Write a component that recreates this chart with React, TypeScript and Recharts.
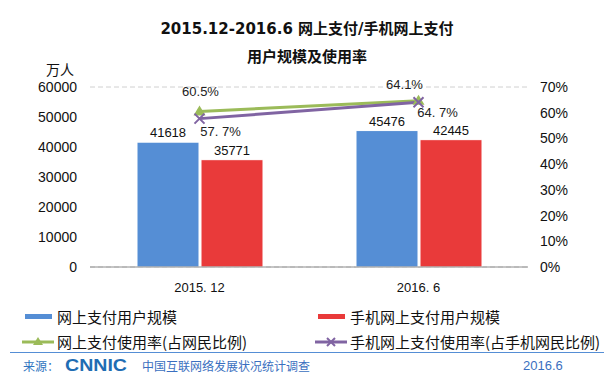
import React from 'react';
import {
  ComposedChart,
  Bar,
  Line,
  XAxis,
  YAxis,
  CartesianGrid,
  LabelList,
} from 'recharts';

if (typeof document !== 'undefined') document.body.style.margin = '0';

const periods = ['2015. 12', '2016. 6'];
const payUsers = [41618, 45476];
const mobilePayUsers = [35771, 42445];
const payRate = [60.5, 64.7];
const mobilePayRate = [57.7, 64.1];
const leftTicks = [0, 10000, 20000, 30000, 40000, 50000, 60000];
const rightTicks = [0, 10, 20, 30, 40, 50, 60, 70];

const data = periods.map((p, i) => ({
  period: p,
  pay: payUsers[i],
  mobile: mobilePayUsers[i],
  payRate: payRate[i],
  mobileRate: mobilePayRate[i],
}));

const BLUE = '#558ed5';
const RED = '#e93a3a';
const GREEN = '#9bbb59';
const PURPLE = '#8064a2';
const FONT = 'Arial, "Liberation Sans", sans-serif';
const CJK = '"Noto Sans CJK SC", sans-serif';

const Triangle = (props: any) => {
  const { cx, cy } = props;
  if (cx == null) return null;
  return <path d={`M${cx},${cy - 6} L${cx + 6},${cy + 4} L${cx - 6},${cy + 4} Z`} fill={GREEN} />;
};

const Cross = (props: any) => {
  const { cx, cy } = props;
  if (cx == null) return null;
  return (
    <path d={`M${cx - 5},${cy - 5} L${cx + 5},${cy + 5} M${cx + 5},${cy - 5} L${cx - 5},${cy + 5}`} stroke={PURPLE} strokeWidth={2} />
  );
};

// label offsets picked per point to follow the reference
const rateLabel = (offsets: [number, number][], fmt: (v: number) => string) => (props: any) => {
  const { x, y, value, index } = props;
  const [dx, dy] = offsets[index];
  return (
    <text x={x + dx} y={y + dy} textAnchor="middle" fontSize={13} fontFamily={FONT} fill="#222">
      {fmt(value)}
    </text>
  );
};

const barLabel = (props: any) => {
  const { x, y, width, value } = props;
  return (
    <text x={x + width / 2} y={y - 5} textAnchor="middle" fontSize={13} fontFamily={FONT} fill="#111">
      {value}
    </text>
  );
};

const legendRow = (items: { color: string; label: string; marker?: 'tri' | 'x' }[], top: number) =>
  items.map((it, i) => (
    <div
      key={it.label}
      style={{
        position: 'absolute',
        left: i === 0 ? 22 : 315,
        top,
        display: 'flex',
        alignItems: 'center',
        fontFamily: CJK,
        fontSize: 15,
        color: '#111',
        whiteSpace: 'nowrap',
      }}
    >
      <svg width={32} height={14} style={{ marginRight: 3 }}>
        {it.marker ? (
          <line x1={0} y1={7} x2={32} y2={7} stroke={it.color} strokeWidth={3} />
        ) : (
          <rect x={3} y={4} width={27} height={5} fill={it.color} />
        )}
        {it.marker === 'tri' && <path d="M16,2 L21,10 L11,10 Z" fill={it.color} />}
        {it.marker === 'x' && <path d="M12,3 L20,11 M20,3 L12,11" stroke={it.color} strokeWidth={2} />}
      </svg>
      <span>{it.label}</span>
    </div>
  ));

export default function App() {
  return (
    <div style={{ position: 'relative', width: 614, height: 380, background: '#fff', overflow: 'hidden' }}>
      <div style={{ position: 'absolute', top: 17, width: 614, textAlign: 'center', fontFamily: '"DejaVu Sans", "Noto Sans CJK SC", sans-serif', fontWeight: 'bold', fontSize: 15, color: '#111' }}>
        2015.12-2016.6 网上支付/手机网上支付
      </div>
      <div style={{ position: 'absolute', top: 45, width: 614, textAlign: 'center', fontFamily: CJK, fontWeight: 'bold', fontSize: 15, color: '#111' }}>
        用户规模及使用率
      </div>
      <div style={{ position: 'absolute', top: 59, left: 46, fontFamily: CJK, fontSize: 14, color: '#111' }}>万人</div>

      <ComposedChart
        width={614}
        height={380}
        data={data}
        margin={{ top: 87, right: 0, bottom: 83, left: 0 }}
        barGap={2}
        barCategoryGap="21%"
      >
        <CartesianGrid vertical={false} stroke="#d0d0d0" strokeDasharray="5 3" />
        <XAxis
          dataKey="period"
          height={30}
          axisLine={{ stroke: '#8c8c8c' }}
          tickLine={false}
          tick={{ fontSize: 13, fontFamily: FONT, fill: '#111' }}
          tickMargin={10}
        />
        <YAxis
          yAxisId="left"
          width={90}
          domain={[0, 60000]}
          ticks={leftTicks}
          axisLine={false}
          tickLine={false}
          tick={{ fontSize: 14, fontFamily: FONT, fill: '#111' }}
          tickMargin={7}
        />
        <YAxis
          yAxisId="right"
          orientation="right"
          width={86}
          domain={[0, 70]}
          ticks={rightTicks}
          tickFormatter={(v: number) => `${v}%`}
          axisLine={false}
          tickLine={false}
          tick={{ fontSize: 14, fontFamily: FONT, fill: '#111' }}
          tickMargin={6}
        />
        <Bar yAxisId="left" dataKey="pay" fill={BLUE} stroke="#fff" strokeWidth={1} barSize={62} isAnimationActive={false}>
          <LabelList dataKey="pay" content={barLabel} />
        </Bar>
        <Bar yAxisId="left" dataKey="mobile" fill={RED} stroke="#fff" strokeWidth={1} barSize={62} isAnimationActive={false}>
          <LabelList dataKey="mobile" content={barLabel} />
        </Bar>
        <Line
          yAxisId="right"
          dataKey="payRate"
          stroke={GREEN}
          strokeWidth={3}
          dot={<Triangle />}
          activeDot={false}
          isAnimationActive={false}
        >
          <LabelList
            dataKey="payRate"
            content={rateLabel([[1, -15], [19, 16]], (v) => (v === 64.7 ? '64. 7%' : `${v}%`))}
          />
        </Line>
        <Line
          yAxisId="right"
          dataKey="mobileRate"
          stroke={PURPLE}
          strokeWidth={3}
          dot={<Cross />}
          activeDot={false}
          isAnimationActive={false}
        >
          <LabelList
            dataKey="mobileRate"
            content={rateLabel([[21, 17], [-14, -13]], (v) => (v === 57.7 ? '57. 7%' : `${v}%`))}
          />
        </Line>
      </ComposedChart>

      {legendRow(
        [
          { color: BLUE, label: '网上支付用户规模' },
          { color: RED, label: '手机网上支付用户规模' },
        ],
        306
      )}
      {legendRow(
        [
          { color: GREEN, label: '网上支付使用率(占网民比例)', marker: 'tri' },
          { color: PURPLE, label: '手机网上支付使用率(占手机网民比例)', marker: 'x' },
        ],
        331
      )}

      <div style={{ position: 'absolute', left: 10, top: 352, width: 594, height: 1, background: BLUE }} />
      <div style={{ position: 'absolute', left: 23, top: 357, fontFamily: CJK, fontSize: 12, color: '#2f75c0' }}>来源：</div>
      <svg style={{ position: 'absolute', left: 65, top: 356 }} width={64} height={18}>
        <text x={0} y={15} textLength={62} lengthAdjust="spacingAndGlyphs" fontFamily={FONT} fontWeight={900} fontSize={17} fill="#1f6db3">
          CNNIC
        </text>
      </svg>
      <div style={{ position: 'absolute', left: 142, top: 357, fontFamily: CJK, fontSize: 12, color: '#3a6fc0' }}>
        中国互联网络发展状况统计调查
      </div>
      <div style={{ position: 'absolute', left: 523, top: 358, fontFamily: FONT, fontSize: 13, color: '#3a6fc0' }}>2016.6</div>
    </div>
  );
}
